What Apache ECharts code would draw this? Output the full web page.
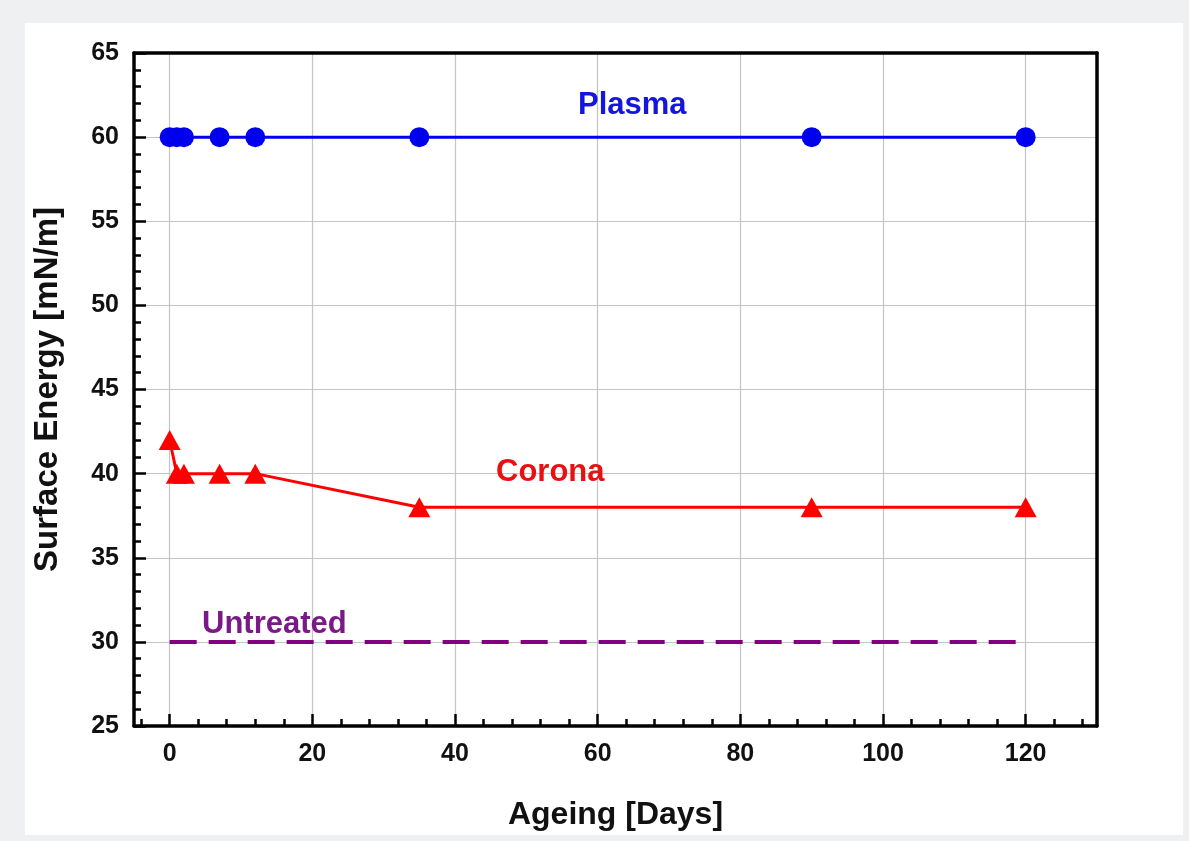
<!DOCTYPE html>
<html>
<head>
<meta charset="utf-8">
<script src="https://cdn.jsdelivr.net/npm/echarts@6/dist/echarts.min.js"></script>
<style>
html,body{margin:0;padding:0;background:#eef0f2;}
#chart{width:1189px;height:841px;}
</style>
</head>
<body>
<div id="chart"></div>
<script>
// ---- data ----
const plasmaDays = [0, 1, 2, 7, 12, 35, 90, 120];
const plasmaEnergy = [60, 60, 60, 60, 60, 60, 60, 60];
const coronaDays = [0, 1, 2, 7, 12, 35, 90, 120];
const coronaEnergy = [42, 40, 40, 40, 40, 38, 38, 38];
const untreatedDays = [0, 120];
const untreatedEnergy = [30, 30];
const xMajorTicks = [0, 20, 40, 60, 80, 100, 120];
const xMinorTicks = [];
for (let v = -4; v <= 128; v += 4) xMinorTicks.push(v);

const pair = (xs, ys) => xs.map((x, i) => [x, ys[i]]);

const FONT = '"Liberation Sans", Arial, sans-serif';
const X_MIN = -5, X_MAX = 130, Y_MIN = 25, Y_MAX = 65;

const chart = echarts.init(document.getElementById('chart'), null, {renderer: 'canvas'});
chart.setOption({
  backgroundColor: '#eef0f2',
  animation: false,
  textStyle: {fontFamily: FONT},
  graphic: [
    {type: 'rect', z: -10, silent: true, shape: {x: 25, y: 23, width: 1158, height: 812}, style: {fill: '#ffffff'}},
    {type: 'text', left: 578, top: 90, z: 10, style: {text: 'Plasma', fill: '#1515e0', font: 'bold 31px ' + FONT}},
    {type: 'text', left: 496, top: 457, z: 10, style: {text: 'Corona', fill: '#e81010', font: 'bold 31px ' + FONT}},
    {type: 'text', left: 202, top: 609, z: 10, style: {text: 'Untreated', fill: '#7a1a86', font: 'bold 31px ' + FONT}}
  ],
  grid: {left: 134, right: 92, top: 53, bottom: 115, show: false},
  xAxis: [
    {
      type: 'value', min: X_MIN, max: X_MAX,
      name: 'Ageing [Days]', nameLocation: 'middle', nameGap: 73,
      nameTextStyle: {fontFamily: FONT, fontWeight: 'bold', fontSize: 32, color: '#111'},
      axisLine: {show: true, onZero: false, lineStyle: {color: '#000', width: 3.5}},
      axisTick: {show: true, inside: true, length: 12, customValues: xMajorTicks, lineStyle: {color: '#000', width: 2.5}},
      axisLabel: {show: true, customValues: xMajorTicks, margin: 16, fontFamily: FONT, fontWeight: 'bold', fontSize: 25, color: '#111'},
      splitLine: {show: true, lineStyle: {color: '#c4c4c4', width: 1.2}}
    },
    {
      type: 'value', min: X_MIN, max: X_MAX, position: 'bottom',
      axisLine: {show: false, onZero: false},
      axisTick: {show: true, inside: true, length: 7, customValues: xMinorTicks, lineStyle: {color: '#000', width: 2.5}},
      axisLabel: {show: false},
      splitLine: {show: false}
    },
    {
      type: 'value', min: X_MIN, max: X_MAX, position: 'top',
      axisLine: {show: true, onZero: false, lineStyle: {color: '#000', width: 3.5}},
      axisTick: {show: false}, axisLabel: {show: false}, splitLine: {show: false}
    }
  ],
  yAxis: [
    {
      type: 'value', min: Y_MIN, max: Y_MAX, interval: 5,
      name: 'Surface Energy [mN/m]', nameLocation: 'middle', nameGap: 70,
      nameTextStyle: {fontFamily: FONT, fontWeight: 'bold', fontSize: 33, color: '#111'},
      axisLine: {show: true, onZero: false, lineStyle: {color: '#000', width: 3.5}},
      axisTick: {show: true, inside: true, length: 12, lineStyle: {color: '#000', width: 2.5}},
      minorTick: {show: true, splitNumber: 5, length: 7, lineStyle: {color: '#000', width: 2.5}},
      axisLabel: {margin: 15, fontFamily: FONT, fontWeight: 'bold', fontSize: 25, color: '#111'},
      splitLine: {show: true, lineStyle: {color: '#c4c4c4', width: 1.2}}
    },
    {
      type: 'value', min: Y_MIN, max: Y_MAX, position: 'right',
      axisLine: {show: true, onZero: false, lineStyle: {color: '#000', width: 3.5}},
      axisTick: {show: false}, minorTick: {show: false}, axisLabel: {show: false}, splitLine: {show: false}
    }
  ],
  series: [
    {
      name: 'Untreated', type: 'line', xAxisIndex: 0, yAxisIndex: 0, data: pair(untreatedDays, untreatedEnergy),
      symbol: 'none', lineStyle: {color: '#800080', width: 4, type: [27, 12], cap: 'butt'}, z: 3
    },
    {
      name: 'Corona', type: 'line', xAxisIndex: 0, yAxisIndex: 0, data: pair(coronaDays, coronaEnergy),
      symbol: 'triangle', symbolSize: [22, 20], itemStyle: {color: '#ff0000'},
      lineStyle: {color: '#ff0000', width: 3}, z: 4
    },
    {
      name: 'Plasma', type: 'line', xAxisIndex: 0, yAxisIndex: 0, data: pair(plasmaDays, plasmaEnergy),
      symbol: 'circle', symbolSize: 20, itemStyle: {color: '#0000ee'},
      lineStyle: {color: '#0000ee', width: 3}, z: 5
    }
  ]
});
</script>
</body>
</html>
